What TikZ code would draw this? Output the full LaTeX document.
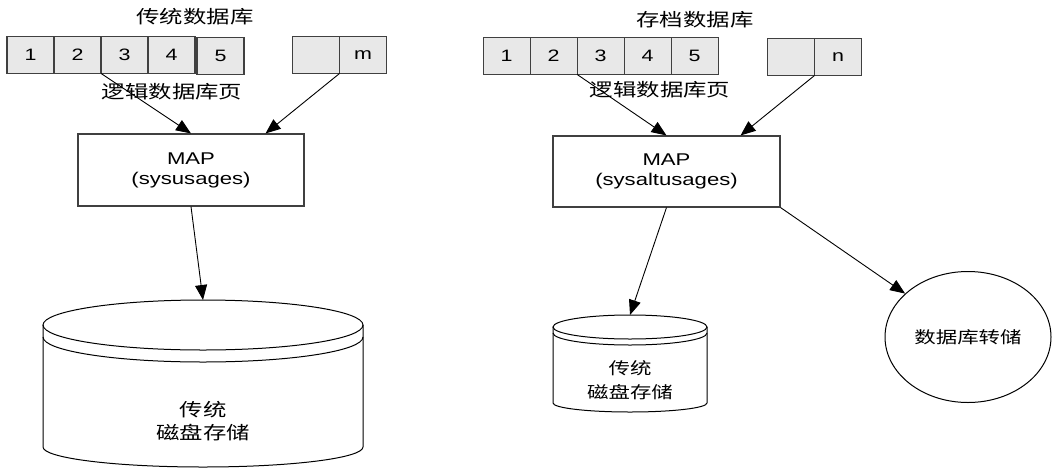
\documentclass[tikz,border=0pt]{standalone}
\usepackage{fontspec}
\usepackage{graphicx}
\setmainfont{Liberation Sans}
\newfontfamily\cjk{Noto Sans CJK SC}
\usetikzlibrary{positioning,arrows.meta,shapes.geometric}
\newcommand{\wide}[1]{\scalebox{1.3}[1]{#1}}

\begin{document}
\begin{tikzpicture}[x=1pt, y=-1pt,
  page/.style = {draw=black!75, line width=1.3pt, fill=black!9, minimum width=47pt, minimum height=37pt, inner sep=0pt, outer sep=0pt, font=\fontsize{16.5}{18}\selectfont},
  map/.style = {draw=black!75, line width=1.1pt, minimum width=226pt, minimum height=72pt, align=center, font=\fontsize{17}{20}\selectfont},
  note/.style = {font=\cjk\fontsize{18}{23}\selectfont, align=center, inner sep=0pt},
  arr/.style = {-{Triangle[length=15pt,width=12pt]}, line width=0.9pt},
  disk/.style = {line width=1pt}]
  \useasboundingbox (0,0) rectangle (1052,469);

  % traditional database: logical pages
  \node[note] (titleA) at (195,17) {\wide{传统数据库}};
  \node[page] (l1) at (30.6,55) {\wide{1}};
  \node[page, right=0pt of l1] (l2) {\wide{2}};
  \node[page, right=0pt of l2] (l3) {\wide{3}};
  \node[page, right=0pt of l3] (l4) {\wide{4}};
  \node[page, right=2pt of l4, yshift=-1pt] (l5) {\wide{5}};
  \node[page] (lm1) at (316,55) {};
  \node[page, right=0pt of lm1] (lm2) {\wide{m}};
  \node[note] (pagesA) at (172,92) {\wide{逻辑数据库页}};

  % archive database: logical pages
  \node[note] (titleB) at (695,20) {\wide{存档数据库}};
  \node[page] (r1) at (506.7,56) {\wide{1}};
  \node[page, right=0pt of r1] (r2) {\wide{2}};
  \node[page, right=0pt of r2] (r3) {\wide{3}};
  \node[page, right=0pt of r3] (r4) {\wide{4}};
  \node[page, right=0pt of r4] (r5) {\wide{5}};
  \node[page] (rn1) at (791,57) {};
  \node[page, right=0pt of rn1] (rn2) {\wide{n}};
  \node[note] (pagesB) at (660,90) {\wide{逻辑数据库页}};

  % maps
  \node[map] (mapA) at (191,170) {\wide{MAP}\\\wide{(sysusages)}};
  \node[map, minimum width=227pt, minimum height=71pt] (mapB) at (666.5,171.5) {\wide{MAP}\\\wide{(sysaltusages)}};

  % big disk
  \draw[disk] (203,325) ellipse [x radius=160, y radius=25];
  \draw[disk] (43,337) arc[start angle=180, end angle=0, x radius=160, y radius=25];
  \draw[disk] (43,325) -- (43,447) arc[start angle=180, end angle=0, x radius=160, y radius=20] -- (363,325);
  \coordinate (diskA) at (203,300);
  \node[note] (diskAtext) at (203,421) {\wide{传统}\\\wide{磁盘存储}};

  % small disk
  \draw[disk] (630,327) ellipse [x radius=77, y radius=12];
  \draw[disk] (553,333) arc[start angle=180, end angle=0, x radius=77, y radius=12];
  \draw[disk] (553,327) -- (553,403) arc[start angle=180, end angle=0, x radius=77, y radius=9] -- (707,327);
  \coordinate (diskB) at (630,315);
  \node[note, font=\cjk\fontsize{16.5}{24}\selectfont] (diskBtext) at (630,380) {\wide{传统}\\\wide{磁盘存储}};

  % dump
  \node[draw, ellipse, line width=1pt, minimum width=166pt, minimum height=131pt, note, font=\cjk\fontsize{16.5}{18}\selectfont] (dump) at (968,337) {\wide{数据库转储}};

  % arrows
  \draw[arr] (l3.south west) -- (mapA.north);
  \draw[arr] (lm1.south east) -- ([xshift=-39pt]mapA.north east);
  \draw[arr] (r3.south west) -- (mapB.north);
  \draw[arr] (rn1.south east) -- ([xshift=-40pt]mapB.north east);
  \draw[arr] (mapA.south) -- (diskA);
  \draw[arr] (mapB.south) -- (diskB);
  \draw[arr] (mapB.south east) -- (dump);
\end{tikzpicture}
\end{document}
